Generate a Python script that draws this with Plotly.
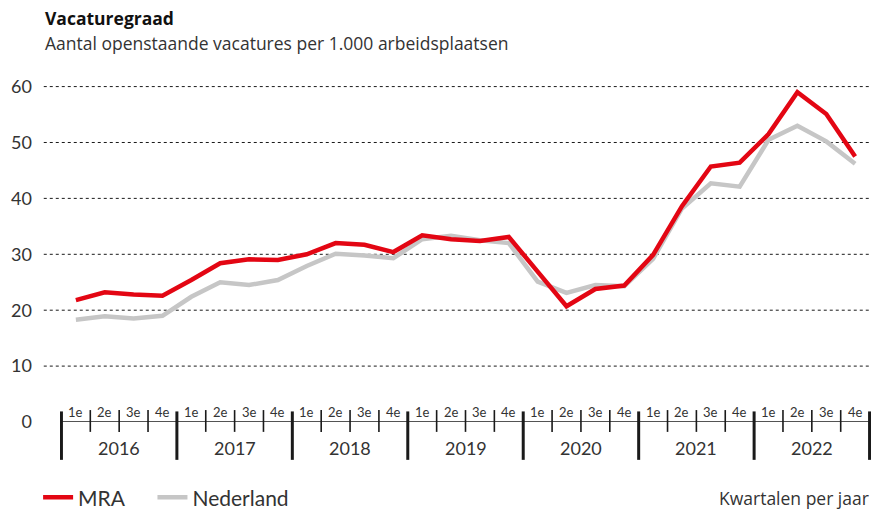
import plotly.graph_objects as go

# ---- data ----
years = [2016, 2017, 2018, 2019, 2020, 2021, 2022]
quarter_labels = ["1e", "2e", "3e", "4e"]
mra = [21.8, 23.2, 22.8, 22.6, 25.4, 28.4, 29.1, 29.0, 30.0, 32.0, 31.7, 30.4,
       33.4, 32.7, 32.4, 33.1, 26.9, 20.7, 23.8, 24.4, 29.9, 38.6, 45.7, 46.4,
       51.5, 59.0, 55.1, 47.5]
nederland = [18.3, 18.9, 18.5, 19.0, 22.4, 25.0, 24.5, 25.4, 27.9, 30.1, 29.8, 29.3,
             32.7, 33.3, 32.5, 32.0, 25.1, 23.1, 24.5, 24.3, 29.2, 38.2, 42.7, 42.1,
             50.5, 53.0, 50.2, 46.2]
y_ticks = [0, 10, 20, 30, 40, 50, 60]

RED = "#E30613"
GREY = "#C6C6C6"
INK = "#1a1a1a"
TXT = "#333333"
FONT = "Lato, 'Noto Sans', sans-serif"
FONT2 = "'Open Sans', 'Noto Sans', sans-serif"

n = len(mra)
x = list(range(n))

fig = go.Figure()
fig.add_trace(go.Scatter(x=x, y=nederland, mode="lines", name="Nederland",
                         line=dict(color=GREY, width=4.5), legend="legend2",
                         hoverinfo="skip"))
fig.add_trace(go.Scatter(x=x, y=mra, mode="lines", name="MRA",
                         line=dict(color=RED, width=4.5), legend="legend",
                         hoverinfo="skip"))

shapes = []
# dotted gridlines (extend a little left of the plot area)
for v in y_ticks[1:]:
    shapes.append(dict(type="line", xref="paper", yref="y", x0=-0.02, x1=0.999,
                       y0=v, y1=v, line=dict(color=INK, width=1, dash="dot"),
                       layer="below"))
# x axis baseline
shapes.append(dict(type="line", xref="x", yref="y", x0=-0.5, x1=n - 0.5,
                   y0=0, y1=0, line=dict(color=INK, width=1.5)))
# quarter and year ticks
for k in range(n + 1):
    xb = k - 0.5
    if k % 4 == 0:
        shapes.append(dict(type="line", xref="x", yref="paper", x0=xb, x1=xb,
                           y0=0.031, y1=-0.111, line=dict(color=INK, width=3)))
    else:
        shapes.append(dict(type="line", xref="x", yref="paper", x0=xb, x1=xb,
                           y0=0.035, y1=-0.029, line=dict(color=INK, width=1.6)))

annotations = []
for i in range(n):
    annotations.append(dict(x=i, y=1.85, xref="x", yref="y", text=quarter_labels[i % 4],
                            showarrow=False, xanchor="center", yanchor="middle",
                            font=dict(size=13, color=TXT, family=FONT)))
for j, yr in enumerate(years):
    annotations.append(dict(x=4 * j + 1.5, y=-0.076, xref="x", yref="paper", text=str(yr),
                            showarrow=False, xanchor="center", yanchor="middle",
                            font=dict(size=18, color=TXT, family=FONT)))
annotations.append(dict(x=-0.021, y=1.185, xref="paper", yref="paper",
                        text="<b>Vacaturegraad</b>", showarrow=False,
                        xanchor="left", yanchor="middle",
                        font=dict(size=17.5, color="#111111", family=FONT2)))
annotations.append(dict(x=-0.021, y=1.111, xref="paper", yref="paper",
                        text="Aantal openstaande vacatures per 1.000 arbeidsplaatsen",
                        showarrow=False, xanchor="left", yanchor="middle",
                        font=dict(size=17.5, color=TXT, family=FONT2)))
annotations.append(dict(x=1.0, y=-0.222, xref="paper", yref="paper",
                        text="Kwartalen per jaar", showarrow=False,
                        xanchor="right", yanchor="middle",
                        font=dict(size=17.5, color=TXT, family=FONT2)))

legend_common = dict(orientation="h", yanchor="middle", y=-0.222, xanchor="left",
                     font=dict(size=21, color=TXT, family=FONT),
                     bgcolor="rgba(0,0,0,0)")

fig.update_layout(
    width=875, height=510,
    margin=dict(l=60, r=4, t=81, b=88, autoexpand=False),
    paper_bgcolor="white", plot_bgcolor="white",
    font=dict(family=FONT, color=TXT),
    xaxis=dict(range=[-0.55, n - 0.45], showgrid=False, zeroline=False,
               showline=False, showticklabels=False, ticks="", fixedrange=True),
    yaxis=dict(range=[0, 61], tickvals=y_ticks, ticktext=[str(v) for v in y_ticks],
               showgrid=False, zeroline=False, showline=False, ticks="",
               ticklabelstandoff=27, tickfont=dict(size=18, color=TXT, family=FONT),
               fixedrange=True),
    showlegend=True,
    legend=dict(x=-0.027, **legend_common),
    legend2=dict(x=0.114, **legend_common),
    shapes=shapes,
    annotations=annotations,
)

fig.write_html("out.html", config={"displayModeBar": False},
               post_script="document.body.style.margin='0';")
